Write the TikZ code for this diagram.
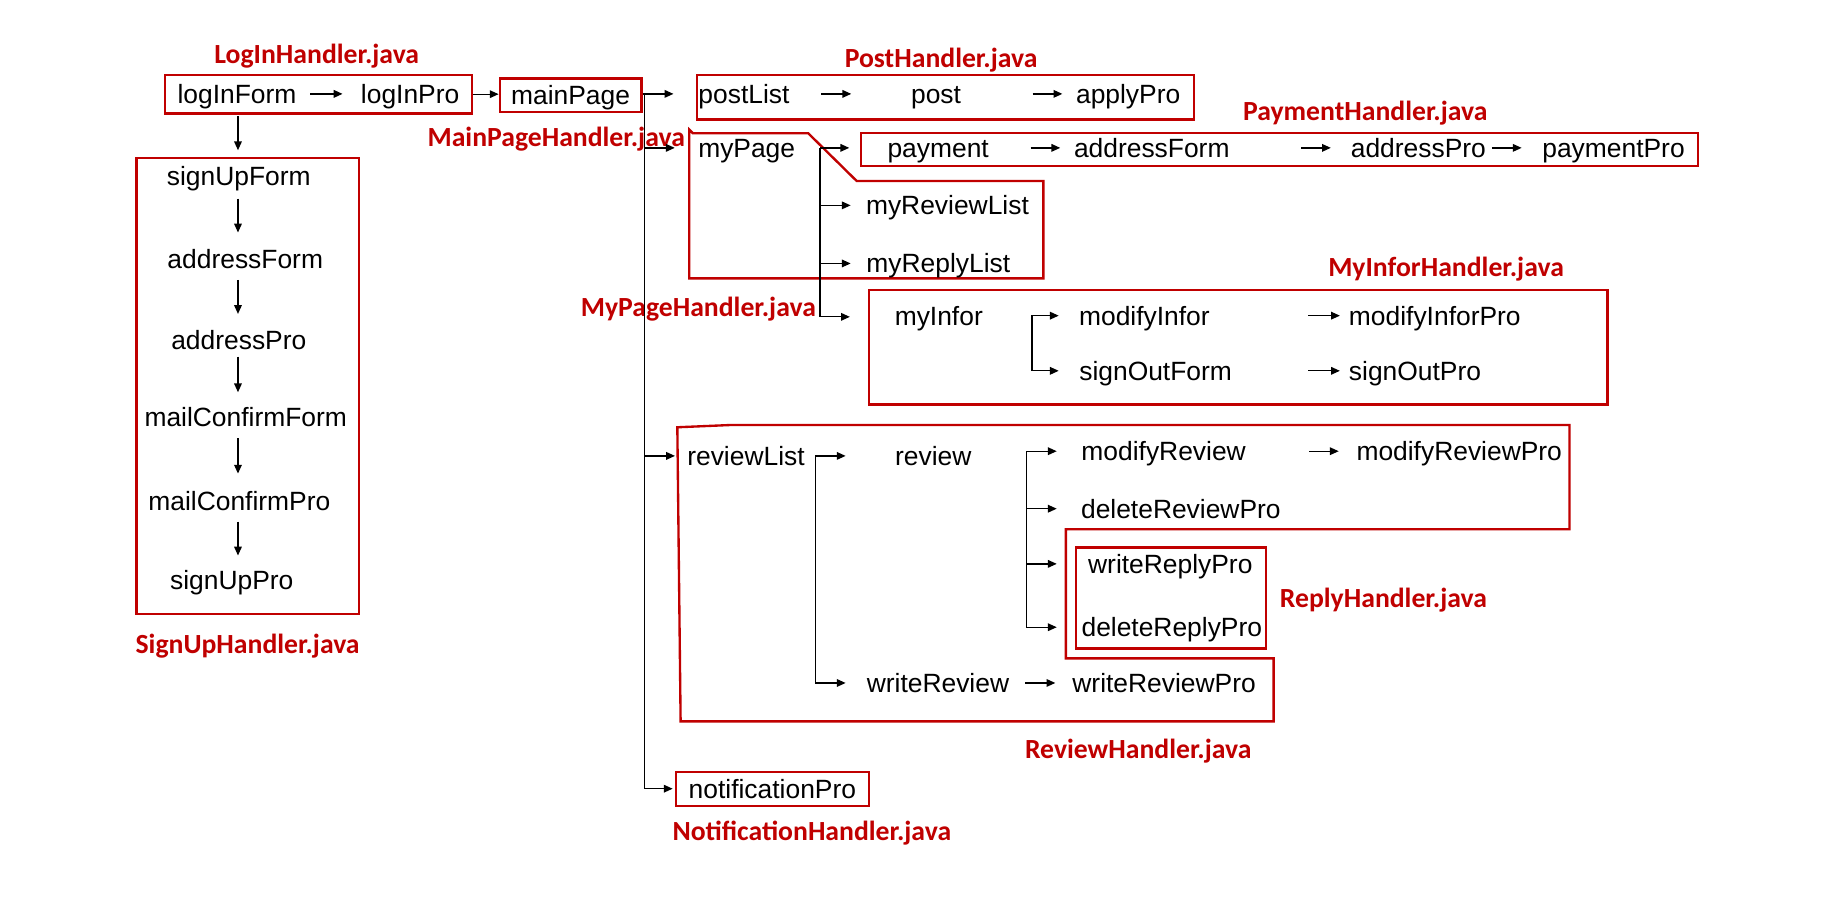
\documentclass[tikz,border=0pt]{standalone}
\usepackage{fontspec}
\setmainfont{Liberation Sans}
\newfontfamily\lblfont{Carlito}
\usetikzlibrary{arrows.meta}
\definecolor{hred}{HTML}{C00000}
\begin{document}
\begin{tikzpicture}[x=1pt,y=-1pt,
  tx/.style={font=\fontsize{22.5}{24}\selectfont, inner sep=0pt, text height=16pt, text depth=0pt},
  lbl/.style={font=\lblfont\bfseries\fontsize{23.6}{25}\selectfont, text=hred, inner sep=0pt, text height=15pt, text depth=0pt},
  rbox/.style={draw=hred, line width=2pt, inner sep=0pt},
  rpoly/.style={draw=hred, line width=2pt, line join=miter},
  ln/.style={line width=1.1pt},
  arr/.style={ln, -{Triangle[length=7.5pt,width=6.5pt]}},
  darr/.style={ln, {Triangle[length=7.5pt,width=6.5pt]}-{Triangle[length=7.5pt,width=6.5pt]}},
]
\useasboundingbox[fill=white] (0,0) rectangle (1568,777);

% ---------- labels ----------
\node[lbl] (lLogin) at (269.9,46.9) {LogInHandler.java};
\node[lbl] (lPost) at (802,49.7) {PostHandler.java};
\node[lbl] (lPay) at (1163.5,95.1) {PaymentHandler.java};
\node[lbl] (lMain) at (474,117.2) {MainPageHandler.java};
\node[lbl] (lInfo) at (1232.3,228) {MyInforHandler.java};
\node[lbl, anchor=east] (lMyPage) at (695.5,262) {MyPageHandler.java};
\node[lbl] (lReply) at (1178.9,510) {ReplyHandler.java};
\node[lbl] (lReview) at (970,639) {ReviewHandler.java};
\node[lbl] (lNotif) at (691.8,708.7) {NotificationHandler.java};
\node[lbl] (lSignUp) at (211,549) {SignUpHandler.java};

% ---------- login row ----------
\node[rbox, minimum width=261.7pt, minimum height=32.7pt] (loginBox) at (271.55,80.25) {};
\node[tx] (logInForm) at (202,80) {logInForm};
\node[tx] (logInPro) at (349.5,80) {logInPro};
\draw[arr] ([xshift=62.4pt]logInForm.center) -- ([xshift=-57.6pt]logInPro.center);
\node[rbox, tx, minimum width=120.7pt, minimum height=28.9pt] (mainPage) at (486.25,81.25) {mainPage};
\draw[arr] (loginBox.east) -- (loginBox.east -| mainPage.west);

% ---------- main trunk ----------
\coordinate (trunkTop) at (549.4,80);
\coordinate (trunkBot) at (549.4,672.1);
\draw[ln] (mainPage.east |- trunkTop) -- (trunkTop) -- (trunkBot);

% ---------- post ----------
\node[rbox, minimum width=423.7pt, minimum height=37.8pt] (postBox) at (805.65,82.8) {};
\draw[arr, shorten >=18.9pt] (trunkTop) -- (trunkTop -| postBox.west);
\node[tx] (postList) at (634,80) {postList};
\node[tx] (post) at (797.7,80) {post};
\node[tx] (applyPro) at (961.4,80) {applyPro};
\draw[arr] ([xshift=66pt]postList.center) -- ([xshift=-72.3pt]post.center);
\draw[arr] ([xshift=82.3pt]post.center) -- ([xshift=-56.1pt]applyPro.center);

% ---------- myPage ----------
\draw[rpoly] (587.4,237.2) -- (587.4,110.5) -- (590.5,113.6) -- (688.8,113.6) -- (730,154.2) -- (889.1,154.2) -- (889.1,237.2) -- cycle;
\node[tx] (myPage) at (636.3,126) {myPage};
\draw[arr] (trunkTop |- myPage) -- ([xshift=-61.3pt]myPage.center);
\coordinate (myTop) at (698.8,126);
\coordinate (myBot) at (698.8,270);
\draw[ln] (myTop) -- (myBot);

% payment
\node[rbox, minimum width=713.5pt, minimum height=27.6pt] (payBox) at (1090.25,127.4) {};
\draw[arr, shorten >=8.8pt] (myTop) -- (myTop -| payBox.west);
\node[tx] (payment) at (799.5,126) {payment};
\node[tx] (addressFormB) at (981.5,126) {addressForm};
\node[tx] (addressProB) at (1208.7,126) {addressPro};
\node[tx] (paymentPro) at (1375,126) {paymentPro};
\draw[arr] ([xshift=78.7pt]payment.center) -- ([xshift=-78pt]addressFormB.center);
\draw[arr] ([xshift=127.3pt]addressFormB.center) -- ([xshift=-74.6pt]addressProB.center);
\draw[arr] ([xshift=62.7pt]addressProB.center) -- ([xshift=-78.3pt]paymentPro.center);

\node[tx] (myReviewList) at (807.4,175) {myReviewList};
\node[tx] (myReplyList) at (799.6,224.5) {myReplyList};
\draw[arr] (myTop |- myReviewList) -- ([xshift=-82.5pt]myReviewList.center);
\draw[arr] (myTop |- myReplyList) -- ([xshift=-74.7pt]myReplyList.center);

% myInfor
\node[rbox, minimum width=629.5pt, minimum height=97.5pt] (infoBox) at (1055.05,295.85) {};
\draw[arr, shorten >=15.1pt] (myBot) -- (myBot -| infoBox.west);
\node[tx] (myInfor) at (800,269) {myInfor};
\node[tx] (modifyInfor) at (975.2,269) {modifyInfor};
\node[tx] (modifyInforPro) at (1222.7,269) {modifyInforPro};
\node[tx] (signOutForm) at (984.8,316) {signOutForm};
\node[tx] (signOutPro) at (1205.8,316) {signOutPro};
\coordinate (miTop) at (879.5,269);
\coordinate (miBot) at (879.5,316);
\draw[darr] ([xshift=-73pt]modifyInfor.center) -- (miTop) -- (miBot) -- ([xshift=-82.6pt]signOutForm.center);
\draw[arr] ([xshift=139.8pt]modifyInfor.center) -- ([xshift=-80.9pt]modifyInforPro.center);
\draw[arr] ([xshift=130.2pt]signOutForm.center) -- ([xshift=-64pt]signOutPro.center);

% ---------- review ----------
\draw[rpoly] (577.2,364.1) -- (622,362.2) -- (1337.5,362.2) -- (1337.5,451) -- (908.3,451) -- (908.3,561) -- (1085.3,561) -- (1085.3,614.7) -- (580,614.7) -- cycle;
\node[rbox, minimum width=162pt, minimum height=86pt] (replyBox) at (997.8,509.7) {};

\node[tx] (reviewList) at (635.7,388.5) {reviewList};
\node[tx] (review) at (795.3,388.5) {review};
\draw[arr] (trunkTop |- reviewList) -- ([xshift=-60.5pt]reviewList.center);
\node[tx] (writeReview) at (799.3,582) {writeReview};
\node[tx] (writeReviewPro) at (992,582) {writeReviewPro};
\coordinate (rvTop) at (695.1,388.5);
\coordinate (rvBot) at (695.1,582);
\draw[darr] ([xshift=-74.7pt]review.center) -- (rvTop) -- (rvBot) -- ([xshift=-78.7pt]writeReview.center);
\draw[arr] ([xshift=74.2pt]writeReview.center) -- ([xshift=-92.7pt]writeReviewPro.center);

\node[tx] (modifyReview) at (991.6,384.5) {modifyReview};
\node[tx] (modifyReviewPro) at (1243.5,384.5) {modifyReviewPro};
\node[tx] (deleteReviewPro) at (1006.3,433.5) {deleteReviewPro};
\node[tx] (writeReplyPro) at (997.3,480.5) {writeReplyPro};
\node[tx] (deleteReplyPro) at (998.6,534.5) {deleteReplyPro};
\coordinate (r2Top) at (874.9,384.5);
\coordinate (r2Bot) at (874.9,534.5);
\draw[darr] ([xshift=-91.1pt]modifyReview.center) -- (r2Top) -- (r2Bot) -- ([xshift=-98.1pt]deleteReplyPro.center);
\draw[arr] (r2Top |- deleteReviewPro) -- ([xshift=-105.8pt]deleteReviewPro.center);
\draw[arr] (r2Top |- writeReplyPro) -- ([xshift=-96.8pt]writeReplyPro.center);
\draw[arr] ([xshift=124pt]modifyReview.center) -- ([xshift=-102.7pt]modifyReviewPro.center);

% ---------- notification ----------
\node[rbox, tx, minimum width=164.4pt, minimum height=29pt] (notifBox) at (658.2,672.1) {notificationPro};
\draw[arr, shorten >=1.8pt] (trunkBot) -- (trunkBot -| notifBox.west);

% ---------- sign up ----------
\node[rbox, minimum width=189.5pt, minimum height=388.7pt] (signUpBox) at (211.05,329.05) {};
\node[tx] (signUpForm) at (203.5,150.4) {signUpForm};
\node[tx] (addressFormA) at (209,220.5) {addressForm};
\node[tx] (addressProA) at (203.5,290.2) {addressPro};
\node[tx] (mailConfirmForm) at (209.4,355.7) {mailConfirmForm};
\node[tx] (mailConfirmPro) at (204,426.7) {mailConfirmPro};
\node[tx] (signUpPro) at (197.5,494) {signUpPro};
\coordinate (sx) at (202.8,0);
\draw[arr, shorten <=1.5pt, shorten >=5.7pt] (sx |- loginBox.south) -- (sx |- signUpBox.north);
\draw[arr, shorten <=10.6pt, shorten >=14.2pt] (sx |- signUpForm.south) -- (sx |- addressFormA.north);
\draw[arr, shorten <=9.75pt, shorten >=14.5pt] (sx |- addressFormA.south) -- (sx |- addressProA.north);
\draw[arr, shorten <=5.5pt, shorten >=13.25pt] (sx |- addressProA.south) -- (sx |- mailConfirmForm.north);
\draw[arr, shorten <=9.35pt, shorten >=14.95pt] (sx |- mailConfirmForm.south) -- (sx |- mailConfirmPro.north);
\draw[arr, shorten <=9.55pt, shorten >=12.45pt] (sx |- mailConfirmPro.south) -- (sx |- signUpPro.north);
\end{tikzpicture}
\end{document}
